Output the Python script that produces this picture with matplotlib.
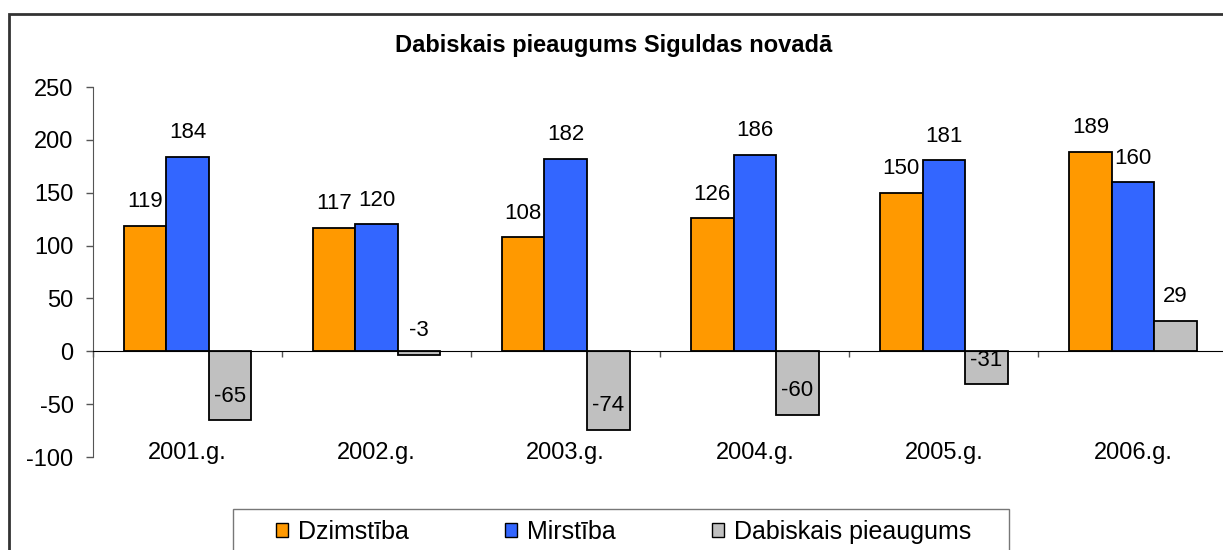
import numpy as np
import matplotlib
matplotlib.use('Agg')
import matplotlib.pyplot as plt
from matplotlib.patches import Patch, Rectangle

plt.rcParams['font.family'] = ['Liberation Sans', 'DejaVu Sans']
plt.rcParams['axes.unicode_minus'] = False

# data
years = ['2001.g.', '2002.g.', '2003.g.', '2004.g.', '2005.g.', '2006.g.']
dzimstiba = [119, 117, 108, 126, 150, 189]
mirstiba = [184, 120, 182, 186, 181, 160]
pieaugums = [-65, -3, -74, -60, -31, 29]
series_names = ['Dzimstība', 'Mirstība', 'Dabiskais pieaugums']
colors = ['#FF9900', '#3366FF', '#C0C0C0']

fig = plt.figure(figsize=(12.23, 5.5), dpi=100)
ax = fig.add_axes([0.076, 0.169, 0.9277, 0.6727])

x = np.arange(len(years))
w = 0.225
for k, vals in enumerate([dzimstiba, mirstiba, pieaugums]):
    bars = ax.bar(x + (k - 1) * w, vals, w, color=colors[k], edgecolor='black',
                  linewidth=1.3, label=series_names[k], zorder=3)
    for b, v in zip(bars, vals):
        ax.annotate(str(v), (b.get_x() + b.get_width() / 2, v), xytext=(0, 24),
                    textcoords='offset pixels', ha='center', va='center',
                    fontsize=16, zorder=4)

ax.set_xlim(-0.5, 5.5)
ax.set_ylim(-100, 250)
ax.set_yticks(np.arange(-100, 251, 50))
ax.tick_params(axis='y', length=5, width=1, color='#555555', pad=9, labelsize=17)
ax.set_xticks(np.arange(-0.5, 6, 1))
ax.set_xticklabels([])
ax.tick_params(axis='x', length=4, width=1, color='#555555', direction='out')

for s in ['top', 'right']:
    ax.spines[s].set_visible(False)
ax.spines['left'].set_color('#555555')
ax.spines['bottom'].set_position(('data', 0))
ax.spines['bottom'].set_color('black')
ax.spines['bottom'].set_zorder(5)

# category labels sit low, near the bottom of the plot
for xi, lab in zip(x, years):
    ax.text(xi, -102, lab, ha='center', va='baseline', fontsize=17, clip_on=False)

fig.text(0.5016, 0.918, 'Dabiskais pieaugums Siguldas novadā', ha='center',
         va='center', fontsize=17, fontweight='bold')

# outer chart border (cropped on right and bottom)
fig.patches.append(Rectangle((9 / 1223, -0.1), 1.2, 1 - 14 / 550 + 0.1,
                             transform=fig.transFigure, fill=False,
                             edgecolor='#333333', linewidth=2))
# legend box
fig.patches.append(Rectangle((233 / 1223, -0.1), (1009 - 233) / 1223, 0.1 + 1 - 509 / 550,
                             transform=fig.transFigure, fill=False,
                             edgecolor='#777777', linewidth=1))

handles = [Patch(facecolor=c, edgecolor='black', linewidth=1) for c in colors]
fig.legend(handles, series_names, loc='center', bbox_to_anchor=(0.5098, 0.0336),
           ncol=3, frameon=False, fontsize=18, handlelength=0.48, handleheight=0.5,
           handletextpad=0.4, columnspacing=3.84, borderpad=0, borderaxespad=0)

fig.savefig('out.png', dpi=100)
